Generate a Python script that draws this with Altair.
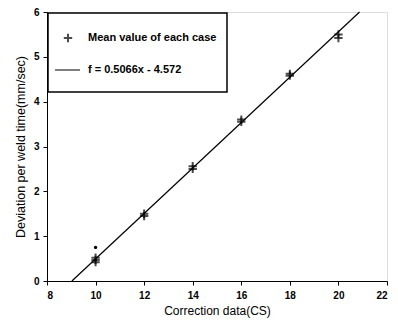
import altair as alt
import pandas as pd

# Mean values of each case (several overlapping measurements per case)
case_x = [10, 10, 10, 12, 12, 14, 14, 16, 16, 18, 18, 20, 20]
case_y = [0.42, 0.47, 0.52, 1.45, 1.50, 2.50, 2.56, 3.55, 3.60, 4.58, 4.62, 5.42, 5.50]

# Outlier dot
dot_x = [10]
dot_y = [0.75]

# Regression line f = 0.5066x - 4.572
slope = 0.5066
intercept = -4.572
line_x = [9.025, 20.87]

x_ticks = [8, 10, 12, 14, 16, 18, 20, 22]
y_ticks = [0, 1, 2, 3, 4, 5, 6]

legend_labels = ["Mean value of each case", "f = 0.5066x - 4.572"]

pts = pd.DataFrame({"x": case_x, "y": case_y})
dots = pd.DataFrame({"x": dot_x, "y": dot_y})
ln = pd.DataFrame({"x": line_x, "y": [slope * v + intercept for v in line_x]})

FONT = "Liberation Sans"

xs = alt.Scale(domain=[8, 22], nice=False)
ys = alt.Scale(domain=[0, 6], nice=False)

xax = alt.Axis(values=x_ticks, title="Correction data(CS)", grid=False, tickSize=4,
               labelFont=FONT, labelFontSize=10, labelFontWeight="bold", labelColor="black",
               titleFont=FONT, titleFontSize=12, titleFontWeight="normal", titleColor="black",
               domainColor="black", tickColor="black", labelPadding=5, titlePadding=5)
yax = alt.Axis(values=y_ticks, title="Deviation per weld time(mm/sec)", grid=False, tickSize=4,
               labelFont=FONT, labelFontSize=10, labelFontWeight="bold", labelColor="black",
               titleFont=FONT, titleFontSize=12.5, titleFontWeight="normal", titleColor="black",
               domainColor="black", tickColor="black", labelPadding=4, titlePadding=6)

plus = "M-1,0L1,0M0,-1L0,1"

line = alt.Chart(ln).mark_line(color="black", strokeWidth=1.2).encode(
    x=alt.X("x:Q", scale=xs, axis=xax),
    y=alt.Y("y:Q", scale=ys, axis=yax),
)
points = alt.Chart(pts).mark_point(shape=plus, size=70, stroke="black", strokeWidth=2, filled=False).encode(
    x=alt.X("x:Q", scale=xs),
    y=alt.Y("y:Q", scale=ys),
)
dot = alt.Chart(dots).mark_circle(color="black", size=12, opacity=1).encode(
    x=alt.X("x:Q", scale=xs),
    y=alt.Y("y:Q", scale=ys),
)

# Legend box (drawn manually)
leg_box = alt.Chart(pd.DataFrame({"a": [0]})).mark_rect(fill="white", stroke="black", strokeWidth=1.5).encode(
    x=alt.value(1), x2=alt.value(180), y=alt.value(1), y2=alt.value(80)
)
leg_sym = alt.Chart(pd.DataFrame({"a": [0]})).mark_point(shape=plus, size=70, stroke="black", strokeWidth=2).encode(
    x=alt.value(21), y=alt.value(26)
)
leg_line = alt.Chart(pd.DataFrame({"a": [0]})).mark_rule(color="black", strokeWidth=1).encode(
    x=alt.value(8), x2=alt.value(33), y=alt.value(58)
)
leg_text = alt.Chart(pd.DataFrame({"t": legend_labels, "yy": [26, 58]})).mark_text(
    align="left", baseline="middle", font=FONT, fontSize=11, fontWeight="bold", color="black"
).encode(
    x=alt.value(41), y=alt.Y("yy:Q", scale=None), text="t:N"
)

chart = alt.layer(line, points, dot, leg_box, leg_sym, leg_line, leg_text).properties(
    width=340, height=269,
    autosize=alt.AutoSizeParams(type="none"),
    padding={"left": 39, "top": 4, "right": 3, "bottom": 40},
).configure_view(stroke="black", strokeWidth=1.5).configure(background="white")

chart.save("out.html", embed_options={"renderer": "svg", "actions": False})
